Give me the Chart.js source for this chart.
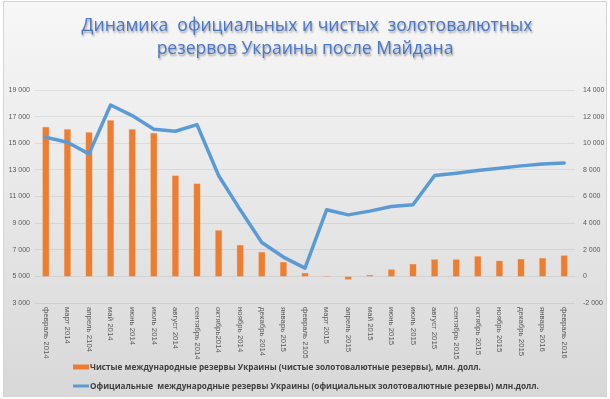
<!DOCTYPE html>
<html>
<head>
<meta charset="utf-8">
<script src="https://cdn.jsdelivr.net/npm/chart.js@4"></script>
<style>
  html,body{margin:0;padding:0;background:#fff;}
  #wrap{width:610px;height:399px;}
</style>
</head>
<body>
<div id="wrap"><canvas id="chart" width="610" height="399"></canvas></div>
<script>
// ====== данные ======
const months = [
  'февраль 2014','март 2014','апрель 2104','май 2014','июнь 2014','июль 2014','август 2014',
  'сентябрь 2014','октябрь2014','ноябрь 2014','декабрь 2014','январь 2015','февраль 2105',
  'март 2015','апрель 2015','май 2015','июнь 2015','июль 2015','август 2015','сентябрь 2015',
  'октябрь 2015','ноябрь 2015','декабрь 2015','январь 2016','февраль 2016'
];
// чистые резервы (столбики, правая ось), млн. долл.
const netReserves = [
  11250, 11080, 10850, 11750, 11080, 10800, 7600, 7000, 3500, 2380, 1850, 1100, 280,
  50, -270, 130, 550, 950, 1300, 1300, 1530, 1200, 1330, 1400, 1600
];
// официальные резервы (линия, левая ось), млн. долл.
const officialReserves = [
  15450, 15070, 14200, 17870, 17080, 16050, 15900, 16400, 12575, 10000, 7550, 6450, 5620,
  10000, 9620, 9900, 10250, 10380, 12575, 12750, 12950, 13120, 13300, 13450, 13520
];
const leftAxis  = { min: 3000,  max: 19000, step: 2000 };
const rightAxis = { min: -2000, max: 14000, step: 2000 };

const titleLines = [
  'Динамика  официальных и чистых  золотовалютных',
  'резервов Украины после Майдана'
];
const legendNet = 'Чистые международные резервы Украины (чистые золотовалютные резервы), млн. долл.';
const legendOfficial = 'Официальные  международные резервы Украины (официальных золотовалютные резервы) млн.долл.';

// ====== оформление ======
const ORANGE = '#ed7d31', BLUE = '#5b9bd5', TXT = '#595959';
const fmt = v => {
  const s = Math.abs(v).toString().replace(/\B(?=(\d{3})+(?!\d))/g, ' ');
  return (v < 0 ? '-' : '') + s;
};

// подогнать размер шрифта под нужную ширину
function fitFont(ctx, text, weight, family, targetW){
  ctx.font = `${weight} 20px ${family}`;
  const w = ctx.measureText(text).width;
  return 20 * targetW / w;
}

const decor = {
  id: 'decor',
  beforeDraw(chart){
    const {ctx, width, height} = chart;
    ctx.save();
    ctx.fillStyle = '#fff';
    ctx.fillRect(0, 0, width, height);
    const g = ctx.createLinearGradient(0, 2, 0, 396);
    g.addColorStop(0, '#f7f7f7');
    g.addColorStop(1, '#d8d8d8');
    ctx.fillStyle = g;
    ctx.fillRect(3.5, 1.5, 603, 395);
    ctx.strokeStyle = '#d4d4d4';
    ctx.lineWidth = 1;
    ctx.strokeRect(3.5, 1.5, 603, 395);
    ctx.restore();
  },
  afterDraw(chart){
    const {ctx, chartArea} = chart;
    const xs = chart.scales.x;
    ctx.save();

    // заголовок
    const fam = '"Open Sans", sans-serif';
    const ts = fitFont(ctx, titleLines[0], 'normal', fam, 451);
    ctx.font = `normal ${ts}px ${fam}`;
    ctx.textAlign = 'center';
    ctx.textBaseline = 'alphabetic';
    ctx.shadowColor = 'rgba(0,0,0,0.35)';
    ctx.shadowOffsetX = 1; ctx.shadowOffsetY = 1.5; ctx.shadowBlur = 2;
    ctx.fillStyle = '#4a76c6';
    ctx.fillText(titleLines[0], 307, 31);
    ctx.fillText(titleLines[1], 305, 54);
    ctx.shadowColor = 'transparent';

    // подписи месяцев (сверху вниз)
    ctx.font = '7.8px "Liberation Sans", sans-serif';
    ctx.fillStyle = TXT;
    ctx.textAlign = 'left';
    ctx.textBaseline = 'middle';
    months.forEach((m, i) => {
      const x = xs.getPixelForValue(i);
      ctx.save();
      ctx.translate(x, chartArea.bottom + 4);
      ctx.rotate(Math.PI / 2);
      ctx.fillText(m, 0, 0);
      ctx.restore();
    });

    // легенда
    const lf = '"Open Sans", sans-serif';
    const ls = fitFont(ctx, legendNet, 'bold', lf, 391);
    ctx.font = `bold ${ls}px ${lf}`;
    ctx.fillStyle = ORANGE;
    ctx.fillRect(73, 364.5, 16, 5);
    ctx.strokeStyle = BLUE; ctx.lineWidth = 3;
    ctx.beginPath(); ctx.moveTo(73, 386); ctx.lineTo(89, 386); ctx.stroke();
    ctx.fillStyle = '#404040';
    ctx.textBaseline = 'middle';
    ctx.fillText(legendNet, 90, 367.5);
    ctx.fillText(legendOfficial, 90, 386.5);
    ctx.restore();
  }
};

new Chart(document.getElementById('chart'), {
  data: {
    labels: months,
    datasets: [
      { type: 'line', label: legendOfficial, data: officialReserves, yAxisID: 'y',
        borderColor: BLUE, borderWidth: 3.5, pointRadius: 0, tension: 0,
        borderJoinStyle: 'round', borderCapStyle: 'round', order: 0 },
      { type: 'bar', label: legendNet, data: netReserves, yAxisID: 'y1',
        backgroundColor: ORANGE, borderColor: 'rgba(247,190,150,0.9)', borderWidth: 0.6,
        categoryPercentage: 1, barPercentage: 0.34, order: 1 }
    ]
  },
  options: {
    responsive: false, animation: false, devicePixelRatio: 1,
    layout: { padding: { top: 90, bottom: 96, left: 0, right: 0 } },
    plugins: { legend: { display: false }, title: { display: false }, tooltip: { enabled: false } },
    scales: {
      x: { type: 'category', offset: true,
           ticks: { display: false }, grid: { display: false }, border: { display: false },
           afterFit: s => { s.height = 0; } },
      y: { position: 'left', min: leftAxis.min, max: leftAxis.max,
           ticks: { stepSize: leftAxis.step, callback: fmt, color: TXT, padding: 5,
                    font: { size: 7, family: '"Liberation Sans", sans-serif' } },
           grid: { color: 'rgba(0,0,0,0.07)', drawTicks: false, lineWidth: 1 },
           border: { display: false },
           afterFit: s => { s.width = 35; } },
      y1: { position: 'right', min: rightAxis.min, max: rightAxis.max,
            ticks: { stepSize: rightAxis.step, callback: fmt, color: TXT, padding: 8,
                     font: { size: 7, family: '"Liberation Sans", sans-serif' } },
            grid: { display: false, drawTicks: false },
            border: { display: false },
            afterFit: s => { s.width = 35; } }
    }
  },
  plugins: [decor]
});
</script>
</body>
</html>
